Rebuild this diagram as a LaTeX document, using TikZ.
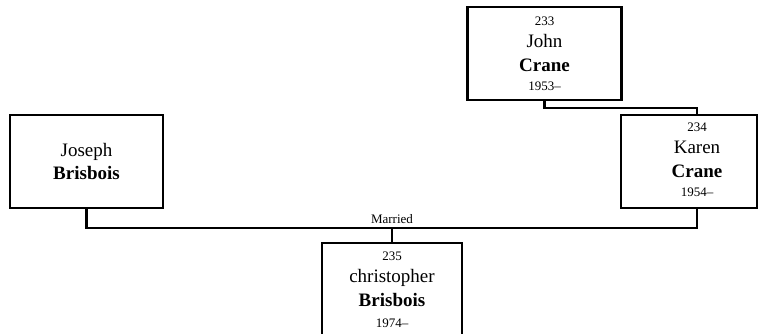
\documentclass[tikz,border=0pt]{standalone}
\usepackage{fontspec}
\setmainfont{Liberation Serif}
\usetikzlibrary{positioning}

\tikzset{
  person/.style={draw, line width=2.1pt, rectangle, minimum height=93pt, inner sep=0pt, align=center, font=\fontsize{19}{22}\selectfont},
  link/.style={line width=2.1pt},
  small/.style={font=\fontsize{13}{15}\selectfont}
}
\newcommand{\idnum}[1]{{\fontsize{13}{15}\selectfont #1}}

\begin{document}
\begin{tikzpicture}[x=1pt,y=-1pt]
\useasboundingbox (0,0) rectangle (760,333);
\clip (0,0) rectangle (760,333);
%% parents of Karen
\node[person, minimum width=154pt] (john) at (544.5,53.5) {\idnum{233}\\John\\[2pt]\textbf{Crane}\\[-3pt]\idnum{1953--}};
\node[person, minimum width=136pt] (karen) at (689,161.5) {};
\node[align=center, inner sep=0pt, font=\fontsize{19}{22}\selectfont] (karentxt) at ([xshift=8pt,yshift=1.5pt]karen.center) {\idnum{234}\\Karen\\[2pt]\textbf{Crane}\\[-3pt]\idnum{1954--}};
%% Joseph and the child
\node[person, minimum width=153pt] (joseph) at (86.5,161.5) {Joseph\\[1pt]\textbf{Brisbois}};
\node[person, minimum width=140pt, anchor=north] (chris) at (392,242) {\idnum{235}\\christopher\\[2pt]\textbf{Brisbois}\\[-1pt]\idnum{1974--}};
\coordinate (wed) at (chris.north |- 0,228);
%% connectors
\draw[link] (john.south) |- (0,108 -| karentxt) -- (karen.north -| karentxt);
\draw[link] (joseph.south) |- (wed) -| (karen.south -| karentxt);
\draw[link] (wed) -- (chris.north);
\node[small, above=1pt of wed] (married) {Married};
\end{tikzpicture}
\end{document}
